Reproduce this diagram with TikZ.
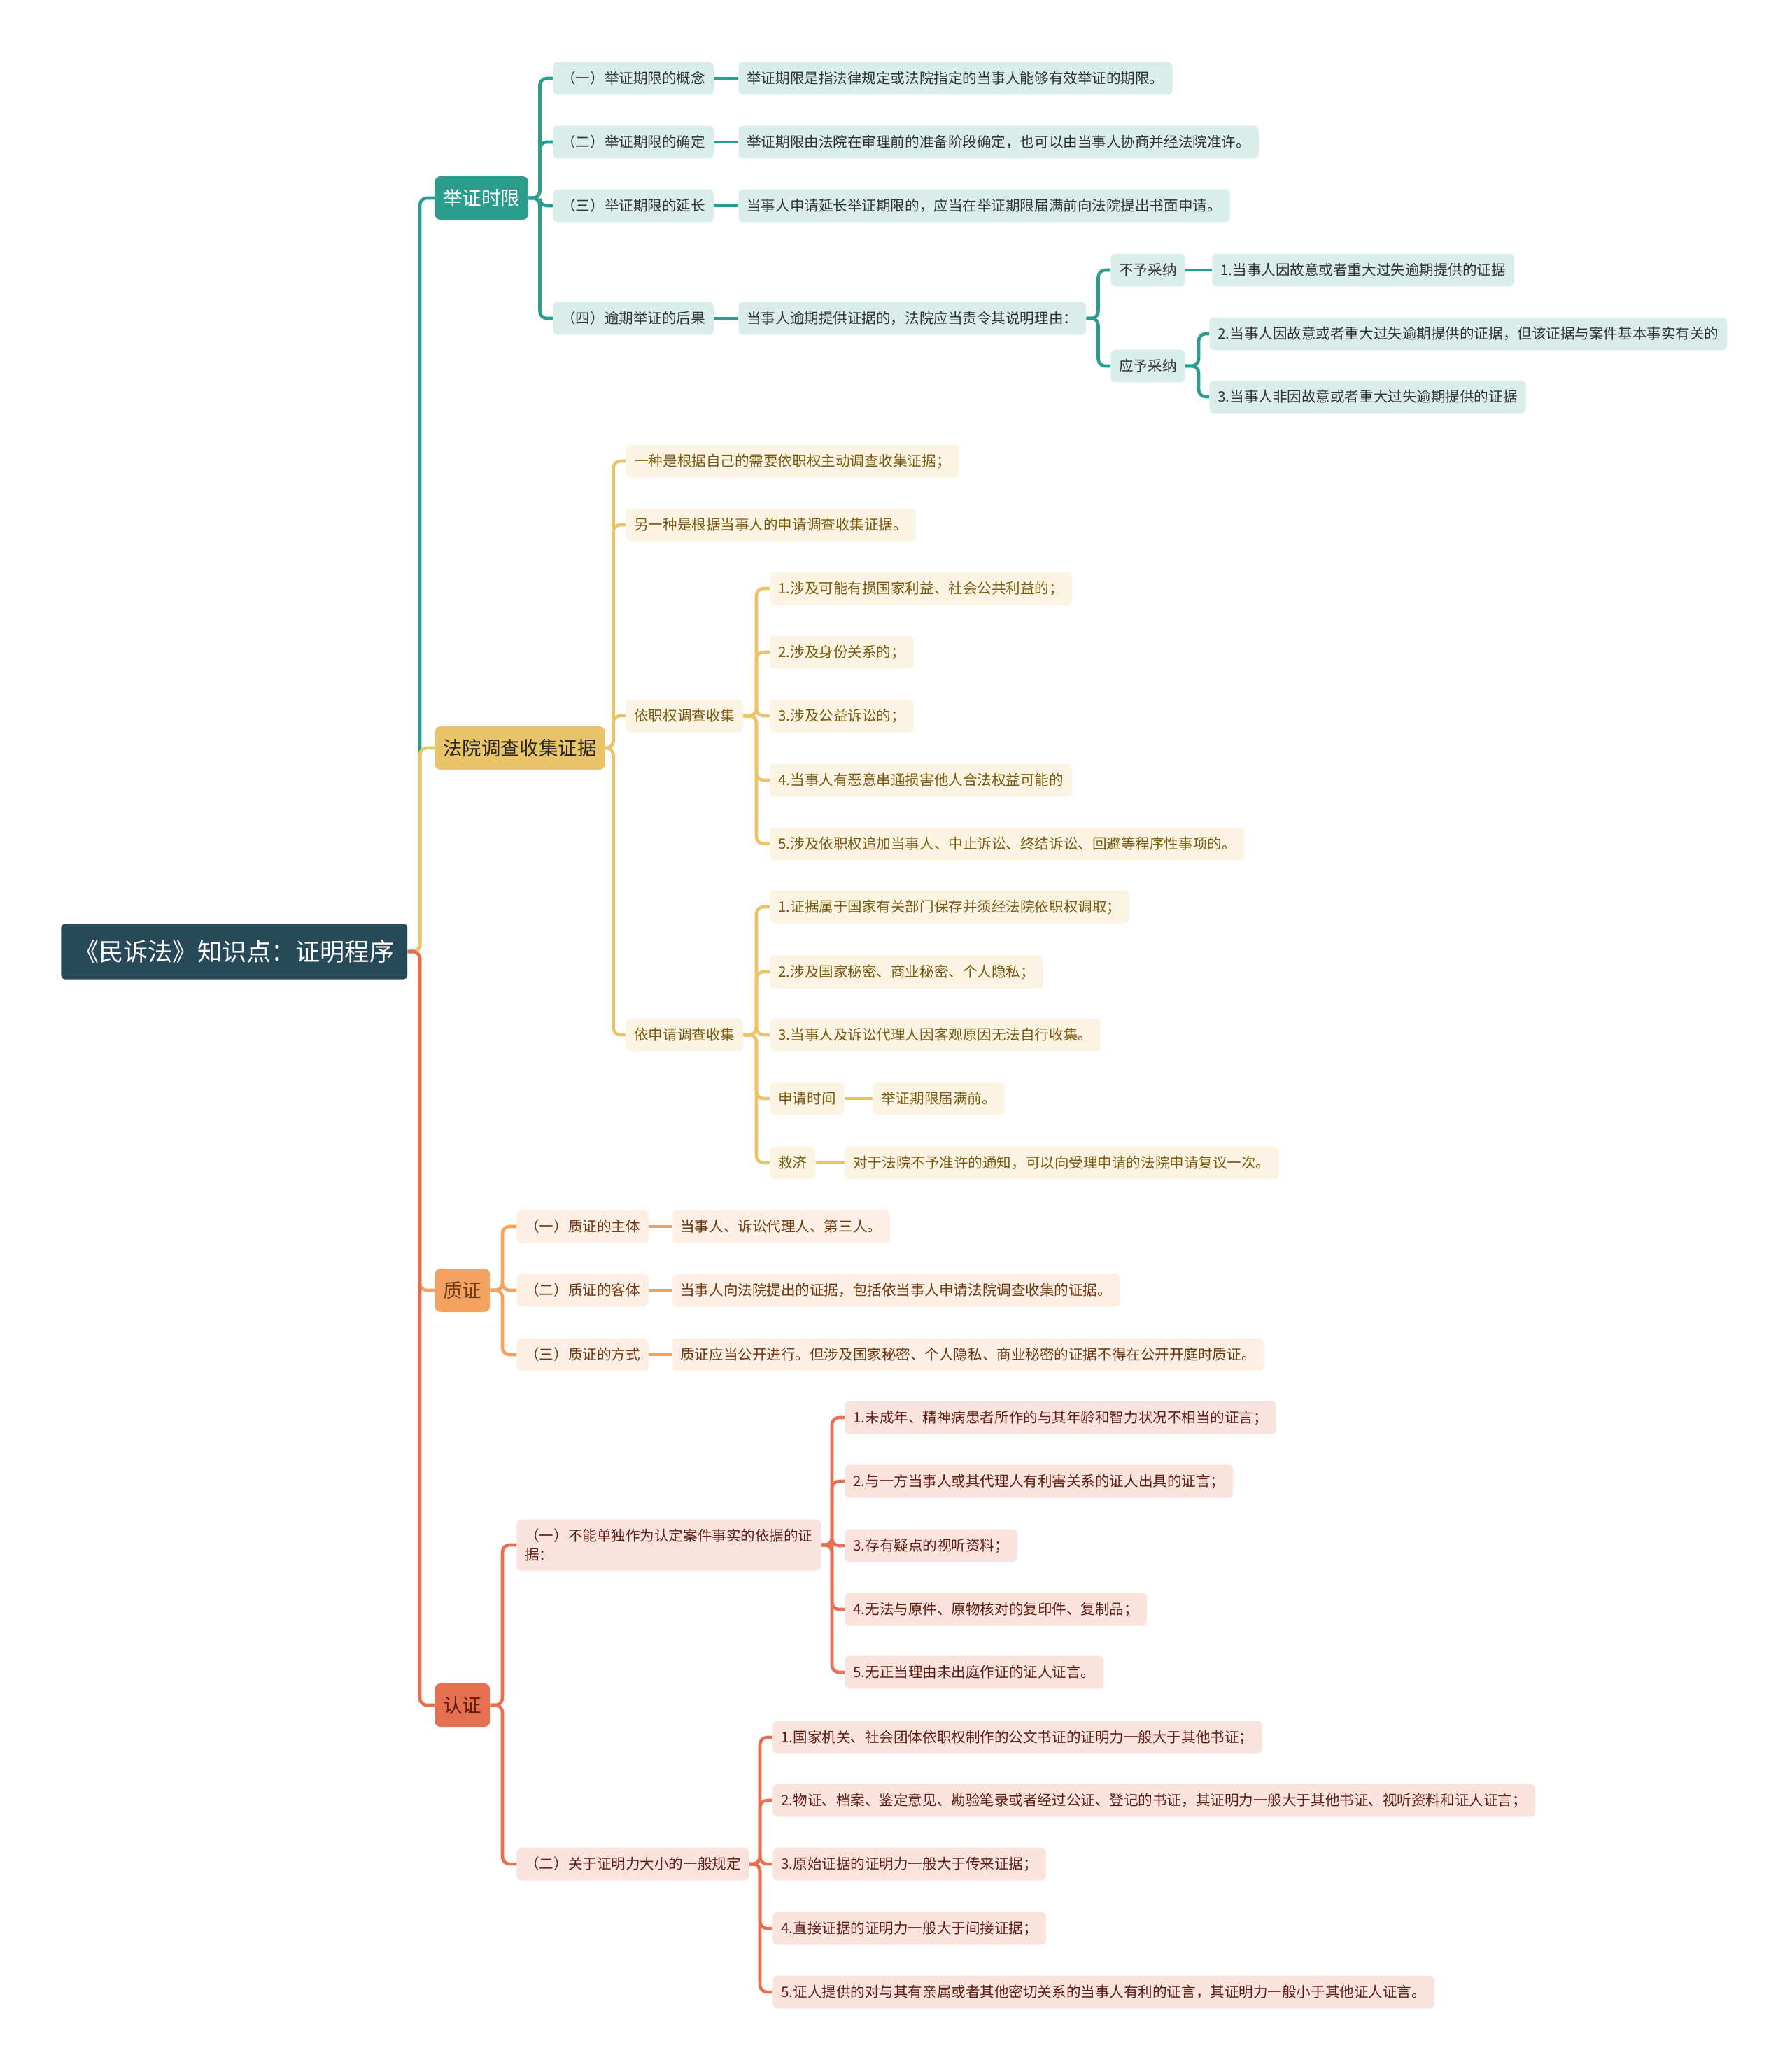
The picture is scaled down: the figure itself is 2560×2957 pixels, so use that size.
\documentclass[tikz,border=0pt]{standalone}
\usepackage{fontspec}
\setmainfont{Noto Sans CJK SC}
\usepackage{tikz}
\usetikzlibrary{positioning}
\definecolor{RootBlue}{HTML}{28495A}
\definecolor{JzTeal}{HTML}{2A9D8F}
\definecolor{JzLight}{HTML}{D9EEEB}
\definecolor{JzText}{HTML}{333333}
\definecolor{FyGold}{HTML}{E9C46A}
\definecolor{FyLight}{HTML}{FBF4E2}
\definecolor{FyText}{HTML}{7A5A12}
\definecolor{ZzOrange}{HTML}{F4A261}
\definecolor{ZzLight}{HTML}{FDEFE4}
\definecolor{ZzText}{HTML}{6E3A14}
\definecolor{RzRed}{HTML}{E76F51}
\definecolor{RzLight}{HTML}{FAE3DD}
\definecolor{RzText}{HTML}{5E2015}

\begin{document}
\begin{tikzpicture}[
        x=0.02cm, y=-0.02cm,
        every node/.style={anchor=west,inner xsep=0.24cm,inner ysep=0pt,font=\fontsize{11.7}{15}\selectfont},
        rootbox/.style={fill=RootBlue,text=white,rounded corners=0.1cm,minimum height=1.58cm,inner xsep=0.38cm,font=\fontsize{20}{24}\selectfont},
        topic/.style={rounded corners=0.16cm,minimum height=1.24cm,font=\fontsize{15.6}{19}\selectfont},
        leaf/.style={rounded corners=0.14cm,minimum height=0.94cm},
        jztopic/.style={topic,fill=JzTeal,text=white},
        fytopic/.style={topic,fill=FyGold,text=black!85},
        zztopic/.style={topic,fill=ZzOrange,text=ZzText},
        rztopic/.style={topic,fill=RzRed,text=RzText},
        jzleaf/.style={leaf,fill=JzLight,text=JzText},
        fyleaf/.style={leaf,fill=FyLight,text=FyText},
        zzleaf/.style={leaf,fill=ZzLight,text=ZzText},
        rzleaf/.style={leaf,fill=RzLight,text=RzText},
        link/.style={line width=2.6pt,rounded corners=0.2cm},
        jzline/.style={link,draw=JzTeal},
        fyline/.style={link,draw=FyGold},
        zzline/.style={link,draw=ZzOrange},
        rzline/.style={link,draw=RzRed}
      ]
      \useasboundingbox (0,0) rectangle (2560,2957);

      % root and main branches
      \node[rootbox] (root) at (87,1360) {《民诉法》知识点：证明程序};
      \node[jztopic] (jzsx) at (621,283) {举证时限};
      \node[fytopic] (fysj) at (621,1069) {法院调查收集证据};
      \node[zztopic] (zz) at (621,1844) {质证};
      \node[rztopic] (rz) at (621,2437) {认证};

      % 举证时限
      \node[jzleaf] (jz1) at (790,112) {（一）举证期限的概念};
      \node[jzleaf] (jz2) at (790,203) {（二）举证期限的确定};
      \node[jzleaf] (jz3) at (790,294) {（三）举证期限的延长};
      \node[jzleaf] (jz4) at (790,455) {（四）逾期举证的后果};
      \node[jzleaf] (jz1a) at (1055,112) {举证期限是指法律规定或法院指定的当事人能够有效举证的期限。};
      \node[jzleaf] (jz2a) at (1055,203) {举证期限由法院在审理前的准备阶段确定，也可以由当事人协商并经法院准许。};
      \node[jzleaf] (jz3a) at (1055,294) {当事人申请延长举证期限的，应当在举证期限届满前向法院提出书面申请。};
      \node[jzleaf] (jz4a) at (1055,455) {当事人逾期提供证据的，法院应当责令其说明理由：};
      \node[jzleaf] (jzbu) at (1587,386) {不予采纳};
      \node[jzleaf] (jzying) at (1587,523) {应予采纳};
      \node[jzleaf] (jzbu1) at (1732,386) {1.当事人因故意或者重大过失逾期提供的证据};
      \node[jzleaf] (jzying2) at (1728,477) {2.当事人因故意或者重大过失逾期提供的证据，但该证据与案件基本事实有关的};
      \node[jzleaf] (jzying3) at (1728,567) {3.当事人非因故意或者重大过失逾期提供的证据};

      % 法院调查收集证据
      \node[fyleaf] (fy1) at (894,659) {一种是根据自己的需要依职权主动调查收集证据；};
      \node[fyleaf] (fy2) at (894,750) {另一种是根据当事人的申请调查收集证据。};
      \node[fyleaf] (fyzq) at (894,1023) {依职权调查收集};
      \node[fyleaf] (fysq) at (894,1479) {依申请调查收集};
      \node[fyleaf] (fyzq1) at (1100,841) {1.涉及可能有损国家利益、社会公共利益的；};
      \node[fyleaf] (fyzq2) at (1100,932) {2.涉及身份关系的；};
      \node[fyleaf] (fyzq3) at (1100,1023) {3.涉及公益诉讼的；};
      \node[fyleaf] (fyzq4) at (1100,1115) {4.当事人有恶意串通损害他人合法权益可能的};
      \node[fyleaf] (fyzq5) at (1100,1206) {5.涉及依职权追加当事人、中止诉讼、终结诉讼、回避等程序性事项的。};
      \node[fyleaf] (fysq1) at (1100,1296) {1.证据属于国家有关部门保存并须经法院依职权调取；};
      \node[fyleaf] (fysq2) at (1100,1389) {2.涉及国家秘密、商业秘密、个人隐私；};
      \node[fyleaf] (fysq3) at (1100,1479) {3.当事人及诉讼代理人因客观原因无法自行收集。};
      \node[fyleaf] (fysqsj) at (1100,1570) {申请时间};
      \node[fyleaf] (fysqsj1) at (1247,1570) {举证期限届满前。};
      \node[fyleaf] (fysqjj) at (1100,1662) {救济};
      \node[fyleaf] (fysqjj1) at (1207,1662) {对于法院不予准许的通知，可以向受理申请的法院申请复议一次。};

      % 质证
      \node[zzleaf] (zz1) at (738,1753) {（一）质证的主体};
      \node[zzleaf] (zz2) at (738,1844) {（二）质证的客体};
      \node[zzleaf] (zz3) at (738,1936) {（三）质证的方式};
      \node[zzleaf] (zz1a) at (960,1753) {当事人、诉讼代理人、第三人。};
      \node[zzleaf] (zz2a) at (960,1844) {当事人向法院提出的证据，包括依当事人申请法院调查收集的证据。};
      \node[zzleaf] (zz3a) at (960,1936) {质证应当公开进行。但涉及国家秘密、个人隐私、商业秘密的证据不得在公开开庭时质证。};

      % 认证
      \node[rzleaf,align=left,minimum height=1.46cm] (rz1) at (738,2208) {（一）不能单独作为认定案件事实的依据的证\\据：};
      \node[rzleaf] (rz2) at (738,2664) {（二）关于证明力大小的一般规定};
      \node[rzleaf] (rz1a) at (1207,2026) {1.未成年、精神病患者所作的与其年龄和智力状况不相当的证言；};
      \node[rzleaf] (rz1b) at (1207,2117) {2.与一方当事人或其代理人有利害关系的证人出具的证言；};
      \node[rzleaf] (rz1c) at (1207,2209) {3.存有疑点的视听资料；};
      \node[rzleaf] (rz1d) at (1207,2300) {4.无法与原件、原物核对的复印件、复制品；};
      \node[rzleaf] (rz1e) at (1207,2390) {5.无正当理由未出庭作证的证人证言。};
      \node[rzleaf] (rz2a) at (1104,2483) {1.国家机关、社会团体依职权制作的公文书证的证明力一般大于其他书证；};
      \node[rzleaf] (rz2b) at (1104,2573) {2.物证、档案、鉴定意见、勘验笔录或者经过公证、登记的书证，其证明力一般大于其他书证、视听资料和证人证言；};
      \node[rzleaf] (rz2c) at (1104,2664) {3.原始证据的证明力一般大于传来证据；};
      \node[rzleaf] (rz2d) at (1104,2756) {4.直接证据的证明力一般大于间接证据；};
      \node[rzleaf] (rz2e) at (1104,2847) {5.证人提供的对与其有亲属或者其他密切关系的当事人有利的证言，其证明力一般小于其他证人证言。};

      % connectors
      \draw[jzline] (root.east) -| ([xshift=-0.42cm]jzsx.west) -- (jzsx.west);
      \draw[fyline] (root.east) -| ([xshift=-0.42cm]fysj.west) -- (fysj.west);
      \draw[zzline] (root.east) -| ([xshift=-0.42cm]zz.west) -- (zz.west);
      \draw[rzline] (root.east) -| ([xshift=-0.42cm]rz.west) -- (rz.west);

      \foreach \c in {jz1,jz2,jz3,jz4}
        \draw[jzline] (jzsx.east) -| ([xshift=-0.37cm]\c.west) -- (\c.west);
      \foreach \c in {1,2,3,4}
        \draw[jzline] (jz\c.east) -- (jz\c a.west);
      \foreach \c in {jzbu,jzying}
        \draw[jzline] (jz4a.east) -| ([xshift=-0.35cm]\c.west) -- (\c.west);
      \draw[jzline] (jzbu.east) -- (jzbu1.west);
      \foreach \c in {jzying2,jzying3}
        \draw[jzline] (jzying.east) -| ([xshift=-0.3cm]\c.west) -- (\c.west);

      \foreach \c in {fy1,fy2,fyzq,fysq}
        \draw[fyline] (fysj.east) -| ([xshift=-0.35cm]\c.west) -- (\c.west);
      \foreach \c in {fyzq1,fyzq2,fyzq3,fyzq4,fyzq5}
        \draw[fyline] (fyzq.east) -| ([xshift=-0.38cm]\c.west) -- (\c.west);
      \foreach \c in {fysq1,fysq2,fysq3,fysqsj,fysqjj}
        \draw[fyline] (fysq.east) -| ([xshift=-0.38cm]\c.west) -- (\c.west);
      \draw[fyline] (fysqsj.east) -- (fysqsj1.west);
      \draw[fyline] (fysqjj.east) -- (fysqjj1.west);

      \foreach \c in {1,2,3}
        \draw[zzline] (zz.east) -| ([xshift=-0.4cm]zz\c.west) -- (zz\c.west);
      \foreach \c in {1,2,3}
        \draw[zzline] (zz\c.east) -- (zz\c a.west);

      \foreach \c in {rz1,rz2}
        \draw[rzline] (rz.east) -| ([xshift=-0.4cm]\c.west) -- (\c.west);
      \foreach \c in {a,b,c,d,e}
        \draw[rzline] (rz1.east) -| ([xshift=-0.36cm]rz1\c.west) -- (rz1\c.west);
      \foreach \c in {a,b,c,d,e}
        \draw[rzline] (rz2.east) -| ([xshift=-0.36cm]rz2\c.west) -- (rz2\c.west);
    \end{tikzpicture}
\end{document}
